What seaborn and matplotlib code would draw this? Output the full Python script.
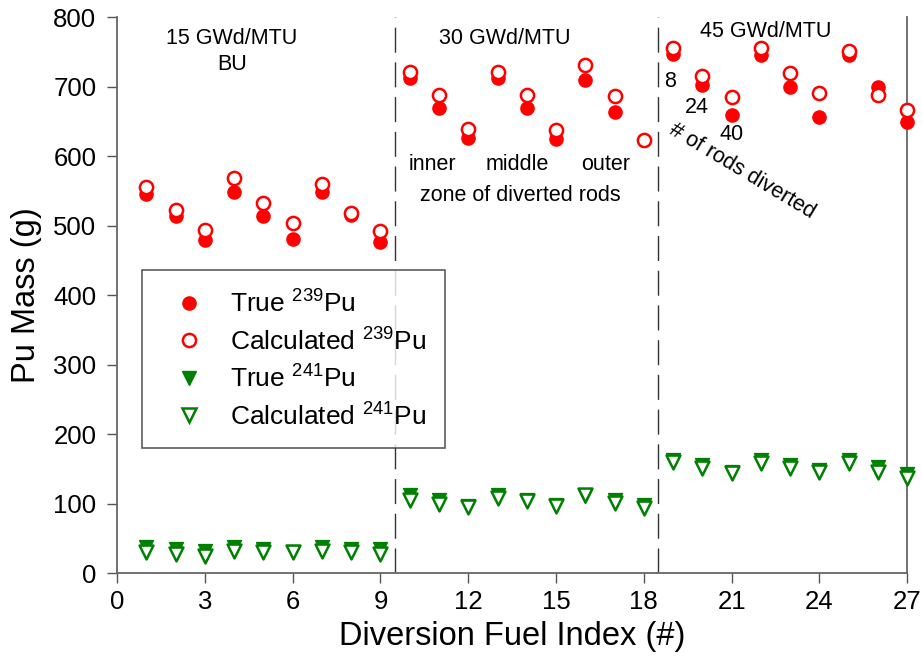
import numpy as np
import pandas as pd
import matplotlib
matplotlib.use("Agg")
import matplotlib.pyplot as plt
import seaborn as sns
from matplotlib.lines import Line2D

fuel_index = list(range(1, 28))
true_pu239 = [546, 514, 479, 549, 514, 481, 548, 516, 477,
              712, 669, 626, 712, 669, 625, 710, 664, 623,
              747, 703, 660, 746, 700, 657, 745, 699, 649]
calc_pu239 = [555, 523, 494, 568, 533, 504, 560, 518, 492,
              721, 688, 639, 721, 688, 638, 732, 686, 624,
              756, 715, 685, 756, 720, 691, 752, 688, 667]
true_pu241 = [38, 35, 32, 38, 35, 30, 38, 35, 34,
              113, 105, 97, 113, 105, 98, 111, 105, 98,
              163, 155, 145, 163, 155, 149, 163, 152, 143]
calc_pu241 = [30, 27, 24, 32, 30, 30, 31, 30, 28,
              105, 99, 95, 108, 103, 96, 112, 101, 93,
              160, 151, 144, 158, 151, 146, 158, 145, 137]

series_labels = [r"True $^{\mathregular{239}}$Pu", r"Calculated $^{\mathregular{239}}$Pu",
                 r"True $^{\mathregular{241}}$Pu", r"Calculated $^{\mathregular{241}}$Pu"]
x_ticks = [0, 3, 6, 9, 12, 15, 18, 21, 24, 27]
y_ticks = [0, 100, 200, 300, 400, 500, 600, 700, 800]

sns.set_theme(style="white")
plt.rcParams["font.family"] = ["Liberation Sans", "DejaVu Sans"]
plt.rcParams["mathtext.fontset"] = "custom"
plt.rcParams["mathtext.rm"] = "Liberation Sans"
for k in ("text.color", "axes.labelcolor", "xtick.labelcolor", "ytick.labelcolor"):
    plt.rcParams[k] = "black"

df = pd.DataFrame({"idx": fuel_index, "t239": true_pu239, "c239": calc_pu239,
                   "t241": true_pu241, "c241": calc_pu241})

fig = plt.figure(figsize=(9.22, 6.64), dpi=100)
ax = fig.add_axes([0.127, 0.137, 0.857, 0.837])

red = "#ff0000"
green = "#008000"
ms = 9.5
common = dict(ax=ax, clip_on=False)
sns.scatterplot(data=df, x="idx", y="t239", marker="o", s=ms**2,
                color=red, edgecolor=red, linewidth=1, zorder=3, **common)
sns.scatterplot(data=df, x="idx", y="c239", marker="o", s=ms**2,
                facecolor="white", edgecolor=red, linewidth=1.8, zorder=4, **common)
sns.scatterplot(data=df, x="idx", y="t241", marker="v", s=(ms + 0.5)**2,
                color=green, edgecolor=green, linewidth=1, zorder=3, **common)
sns.scatterplot(data=df, x="idx", y="c241", marker="v", s=(ms + 0.5)**2,
                facecolor="white", edgecolor=green, linewidth=1.8, zorder=4, **common)

for xv in (9.5, 18.5):
    ax.axvline(xv, color="#333333", lw=1.0, linestyle=(0, (18, 7)), zorder=1)

ax.set_xlim(0, 27)
ax.set_ylim(0, 800)
ax.set_xticks(x_ticks)
ax.set_yticks(y_ticks)
ax.tick_params(axis="both", direction="out", length=7, width=1, color="#555555",
               labelsize=18.5, bottom=True, left=True, pad=5)
ax.tick_params(axis="y", pad=8)
for side in ("left", "bottom", "right"):
    ax.spines[side].set_visible(True)
    ax.spines[side].set_color("#666666")
    ax.spines[side].set_linewidth(1.3)
ax.spines["top"].set_visible(False)

ax.set_xlabel("Diversion Fuel Index (#)", fontsize=23.5, labelpad=5)
ax.set_ylabel("Pu Mass (g)", fontsize=23.5, labelpad=8)

fs = 15.5
ax.text(3.93, 770, "15 GWd/MTU", ha="center", va="center", fontsize=fs)
ax.text(3.93, 732, "BU", ha="center", va="center", fontsize=fs)
ax.text(13.26, 770, "30 GWd/MTU", ha="center", va="center", fontsize=fs)
ax.text(22.15, 779, "45 GWd/MTU", ha="center", va="center", fontsize=fs)
ax.text(10.77, 588, "inner", ha="center", va="center", fontsize=fs)
ax.text(13.67, 588, "middle", ha="center", va="center", fontsize=fs)
ax.text(16.68, 588, "outer", ha="center", va="center", fontsize=fs)
ax.text(13.77, 543, "zone of diverted rods", ha="center", va="center", fontsize=fs)
ax.text(18.9, 707, "8", ha="center", va="center", fontsize=fs)
ax.text(19.82, 670, "24", ha="center", va="center", fontsize=fs)
ax.text(20.98, 631, "40", ha="center", va="center", fontsize=fs)
ax.text(21.35, 578, "# of rods diverted", ha="center", va="center", fontsize=fs,
        rotation=-31, rotation_mode="anchor")

handles = [
    Line2D([], [], ls="none", marker="o", ms=ms, color=red, mec=red),
    Line2D([], [], ls="none", marker="o", ms=ms, mfc="white", mec=red, mew=1.8),
    Line2D([], [], ls="none", marker="v", ms=ms, color=green, mec=green),
    Line2D([], [], ls="none", marker="v", ms=ms, mfc="white", mec=green, mew=1.8),
]
leg = ax.legend(handles, series_labels, loc="upper left", bbox_to_anchor=(0.0316, 0.545),
                fontsize=19, frameon=True, fancybox=False, edgecolor="#333333",
                labelspacing=0.36, handletextpad=0.5, borderpad=0.72, handlelength=2.1,
                borderaxespad=0)
leg.get_frame().set_linewidth(1.2)

fig.savefig("out.png", dpi=100)
